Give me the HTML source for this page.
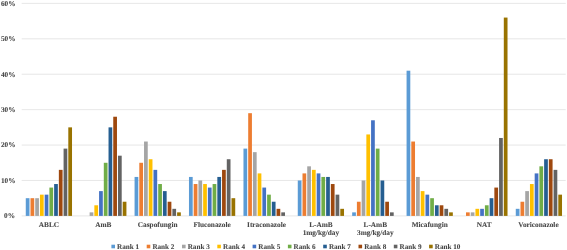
<!DOCTYPE html>
<html><head><meta charset="utf-8"><title>Rank probability chart</title>
<style>
html,body{margin:0;padding:0;background:#fff;}
body{width:567px;height:250px;overflow:hidden;}
svg{display:block;}
svg text{text-rendering:geometricPrecision;font-family:"Liberation Serif","Times New Roman",serif;font-weight:bold;font-size:7.3px;fill:#474747;stroke:#474747;stroke-width:0.08px;}
</style></head><body>
<svg width="567" height="250" viewBox="0 0 567 250">
<rect width="567" height="250" fill="#ffffff"/>
<g stroke="#DADADA" stroke-width="0.65">
<line x1="21.70" y1="215.90" x2="565.70" y2="215.90"/>
<line x1="21.70" y1="180.48" x2="565.70" y2="180.48"/>
<line x1="21.70" y1="145.07" x2="565.70" y2="145.07"/>
<line x1="21.70" y1="109.65" x2="565.70" y2="109.65"/>
<line x1="21.70" y1="74.23" x2="565.70" y2="74.23"/>
<line x1="21.70" y1="38.82" x2="565.70" y2="38.82"/>
<line x1="21.70" y1="3.40" x2="565.70" y2="3.40"/>
</g>
<g text-anchor="end">
<text x="15.05" y="218.10">0%</text>
<text x="15.50" y="182.98">10%</text>
<text x="15.50" y="147.32">20%</text>
<text x="15.50" y="112.30">30%</text>
<text x="15.50" y="76.88">40%</text>
<text x="15.50" y="41.47">50%</text>
<text x="15.50" y="6.05">60%</text>
</g>
<g fill="#5B9BD5">
<rect x="25.77" y="198.19" width="3.72" height="17.71"/>
<rect x="134.57" y="176.94" width="3.72" height="38.96"/>
<rect x="188.97" y="176.94" width="3.72" height="38.96"/>
<rect x="243.47" y="148.61" width="3.72" height="67.29"/>
<rect x="297.77" y="180.48" width="3.72" height="35.42"/>
<rect x="352.17" y="212.36" width="3.72" height="3.54"/>
<rect x="406.57" y="70.69" width="3.72" height="145.21"/>
<rect x="515.77" y="208.82" width="3.72" height="7.08"/>
</g>
<g fill="#ED7D31">
<rect x="30.50" y="198.19" width="3.72" height="17.71"/>
<rect x="139.30" y="162.78" width="3.72" height="53.12"/>
<rect x="193.70" y="184.03" width="3.72" height="31.88"/>
<rect x="248.20" y="113.19" width="3.72" height="102.71"/>
<rect x="302.50" y="173.40" width="3.72" height="42.50"/>
<rect x="356.90" y="201.73" width="3.72" height="14.17"/>
<rect x="411.30" y="141.53" width="3.72" height="74.38"/>
<rect x="466.00" y="212.36" width="3.72" height="3.54"/>
<rect x="520.50" y="201.73" width="3.72" height="14.17"/>
</g>
<g fill="#A5A5A5">
<rect x="35.23" y="198.19" width="3.72" height="17.71"/>
<rect x="89.63" y="212.36" width="3.72" height="3.54"/>
<rect x="144.03" y="141.53" width="3.72" height="74.38"/>
<rect x="198.43" y="180.48" width="3.72" height="35.42"/>
<rect x="252.93" y="152.15" width="3.72" height="63.75"/>
<rect x="307.23" y="166.32" width="3.72" height="49.58"/>
<rect x="361.63" y="180.48" width="3.72" height="35.42"/>
<rect x="416.03" y="176.94" width="3.72" height="38.96"/>
<rect x="470.73" y="212.36" width="3.72" height="3.54"/>
<rect x="525.23" y="191.11" width="3.72" height="24.79"/>
</g>
<g fill="#FFC000">
<rect x="39.95" y="194.65" width="3.72" height="21.25"/>
<rect x="94.35" y="205.28" width="3.72" height="10.62"/>
<rect x="148.75" y="159.23" width="3.72" height="56.67"/>
<rect x="203.15" y="184.03" width="3.72" height="31.88"/>
<rect x="257.65" y="173.40" width="3.72" height="42.50"/>
<rect x="311.95" y="169.86" width="3.72" height="46.04"/>
<rect x="366.35" y="134.44" width="3.72" height="81.46"/>
<rect x="420.75" y="191.11" width="3.72" height="24.79"/>
<rect x="475.45" y="208.82" width="3.72" height="7.08"/>
<rect x="529.95" y="184.03" width="3.72" height="31.88"/>
</g>
<g fill="#4472C4">
<rect x="44.68" y="194.65" width="3.72" height="21.25"/>
<rect x="99.08" y="191.11" width="3.72" height="24.79"/>
<rect x="153.48" y="169.86" width="3.72" height="46.04"/>
<rect x="207.88" y="187.57" width="3.72" height="28.33"/>
<rect x="262.38" y="187.57" width="3.72" height="28.33"/>
<rect x="316.68" y="173.40" width="3.72" height="42.50"/>
<rect x="371.08" y="120.28" width="3.72" height="95.62"/>
<rect x="425.48" y="194.65" width="3.72" height="21.25"/>
<rect x="480.18" y="208.82" width="3.72" height="7.08"/>
<rect x="534.68" y="173.40" width="3.72" height="42.50"/>
</g>
<g fill="#70AD47">
<rect x="49.40" y="187.57" width="3.72" height="28.33"/>
<rect x="103.80" y="162.78" width="3.72" height="53.12"/>
<rect x="158.20" y="184.03" width="3.72" height="31.88"/>
<rect x="212.60" y="184.03" width="3.72" height="31.88"/>
<rect x="267.10" y="194.65" width="3.72" height="21.25"/>
<rect x="321.40" y="176.94" width="3.72" height="38.96"/>
<rect x="375.80" y="148.61" width="3.72" height="67.29"/>
<rect x="430.20" y="198.19" width="3.72" height="17.71"/>
<rect x="484.90" y="205.28" width="3.72" height="10.62"/>
<rect x="539.40" y="166.32" width="3.72" height="49.58"/>
</g>
<g fill="#255E91">
<rect x="54.13" y="184.03" width="3.72" height="31.88"/>
<rect x="108.53" y="127.36" width="3.72" height="88.54"/>
<rect x="162.93" y="191.11" width="3.72" height="24.79"/>
<rect x="217.33" y="176.94" width="3.72" height="38.96"/>
<rect x="271.83" y="201.73" width="3.72" height="14.17"/>
<rect x="326.13" y="176.94" width="3.72" height="38.96"/>
<rect x="380.53" y="180.48" width="3.72" height="35.42"/>
<rect x="434.93" y="205.28" width="3.72" height="10.62"/>
<rect x="489.63" y="198.19" width="3.72" height="17.71"/>
<rect x="544.13" y="159.23" width="3.72" height="56.67"/>
</g>
<g fill="#9E480E">
<rect x="58.85" y="169.86" width="3.72" height="46.04"/>
<rect x="113.25" y="116.73" width="3.72" height="99.17"/>
<rect x="167.65" y="201.73" width="3.72" height="14.17"/>
<rect x="222.05" y="169.86" width="3.72" height="46.04"/>
<rect x="276.55" y="208.82" width="3.72" height="7.08"/>
<rect x="330.85" y="184.03" width="3.72" height="31.88"/>
<rect x="385.25" y="201.73" width="3.72" height="14.17"/>
<rect x="439.65" y="205.28" width="3.72" height="10.62"/>
<rect x="494.35" y="187.57" width="3.72" height="28.33"/>
<rect x="548.85" y="159.23" width="3.72" height="56.67"/>
</g>
<g fill="#636363">
<rect x="63.58" y="148.61" width="3.72" height="67.29"/>
<rect x="117.98" y="155.69" width="3.72" height="60.21"/>
<rect x="172.38" y="208.82" width="3.72" height="7.08"/>
<rect x="226.78" y="159.23" width="3.72" height="56.67"/>
<rect x="281.28" y="212.36" width="3.72" height="3.54"/>
<rect x="335.58" y="194.65" width="3.72" height="21.25"/>
<rect x="389.98" y="212.36" width="3.72" height="3.54"/>
<rect x="444.38" y="208.82" width="3.72" height="7.08"/>
<rect x="499.08" y="137.98" width="3.72" height="77.92"/>
<rect x="553.58" y="169.86" width="3.72" height="46.04"/>
</g>
<g fill="#997300">
<rect x="68.30" y="127.36" width="3.72" height="88.54"/>
<rect x="122.70" y="201.73" width="3.72" height="14.17"/>
<rect x="177.10" y="212.36" width="3.72" height="3.54"/>
<rect x="231.50" y="198.19" width="3.72" height="17.71"/>
<rect x="340.30" y="208.82" width="3.72" height="7.08"/>
<rect x="449.10" y="212.36" width="3.72" height="3.54"/>
<rect x="503.80" y="17.57" width="3.72" height="198.33"/>
<rect x="558.30" y="194.65" width="3.72" height="21.25"/>
</g>
<g text-anchor="middle">
<text x="48.90" y="227.10">ABLC</text>
<text x="103.30" y="227.10">AmB</text>
<text x="157.70" y="227.10">Caspofungin</text>
<text x="212.10" y="227.10">Fluconazole</text>
<text x="266.50" y="227.10">Itraconazole</text>
<text x="320.90" y="227.10">L-AmB</text>
<text x="320.90" y="235.40">1mg/kg/day</text>
<text x="375.30" y="227.10">L-AmB</text>
<text x="375.30" y="235.40">3mg/kg/day</text>
<text x="429.70" y="227.10">Micafungin</text>
<text x="484.10" y="227.10">NAT</text>
<text x="538.50" y="227.10">Voriconazole</text>
</g>
<rect x="111.40" y="244.7" width="3.6" height="3.6" fill="#5B9BD5"/>
<text x="117.10" y="248.70" style="font-size:7.15px">Rank 1</text>
<rect x="146.70" y="244.7" width="3.6" height="3.6" fill="#ED7D31"/>
<text x="152.40" y="248.70" style="font-size:7.15px">Rank 2</text>
<rect x="182.00" y="244.7" width="3.6" height="3.6" fill="#A5A5A5"/>
<text x="187.70" y="248.70" style="font-size:7.15px">Rank 3</text>
<rect x="217.30" y="244.7" width="3.6" height="3.6" fill="#FFC000"/>
<text x="223.00" y="248.70" style="font-size:7.15px">Rank 4</text>
<rect x="252.60" y="244.7" width="3.6" height="3.6" fill="#4472C4"/>
<text x="258.30" y="248.70" style="font-size:7.15px">Rank 5</text>
<rect x="287.90" y="244.7" width="3.6" height="3.6" fill="#70AD47"/>
<text x="293.60" y="248.70" style="font-size:7.15px">Rank 6</text>
<rect x="323.20" y="244.7" width="3.6" height="3.6" fill="#255E91"/>
<text x="328.90" y="248.70" style="font-size:7.15px">Rank 7</text>
<rect x="358.50" y="244.7" width="3.6" height="3.6" fill="#9E480E"/>
<text x="364.20" y="248.70" style="font-size:7.15px">Rank 8</text>
<rect x="393.80" y="244.7" width="3.6" height="3.6" fill="#636363"/>
<text x="399.50" y="248.70" style="font-size:7.15px">Rank 9</text>
<rect x="429.10" y="244.7" width="3.6" height="3.6" fill="#997300"/>
<text x="434.80" y="248.70" style="font-size:7.15px">Rank 10</text>
</svg>
</body></html>
